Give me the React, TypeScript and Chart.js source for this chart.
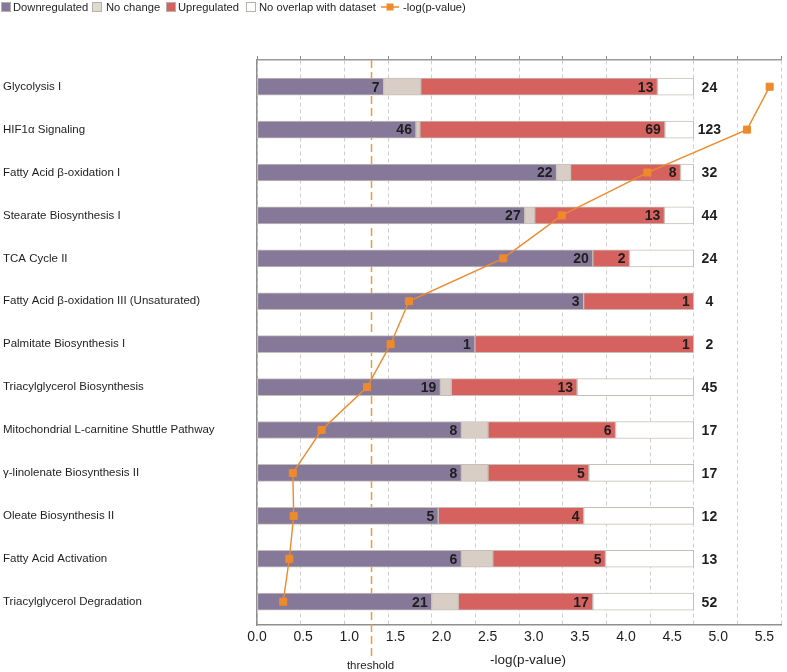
import React, { useEffect, useRef } from 'react';
import { Chart, registerables } from 'chart.js';

Chart.register(...registerables);

// ---------------- data ----------------
const categories = [
  'Glycolysis I',
  'HIF1α Signaling',
  'Fatty Acid β-oxidation I',
  'Stearate Biosynthesis I',
  'TCA Cycle II',
  'Fatty Acid β-oxidation III (Unsaturated)',
  'Palmitate Biosynthesis I',
  'Triacylglycerol Biosynthesis',
  'Mitochondrial L-carnitine Shuttle Pathway',
  'γ-linolenate Biosynthesis II',
  'Oleate Biosynthesis II',
  'Fatty Acid Activation',
  'Triacylglycerol Degradation',
];

// numbers printed in the bars and at the right
const downLabels = [7, 46, 22, 27, 20, 3, 1, 19, 8, 8, 5, 6, 21];
const upLabels = [13, 69, 8, 13, 2, 1, 1, 13, 6, 5, 4, 5, 17];
const totals = [24, 123, 32, 44, 24, 4, 2, 45, 17, 17, 12, 13, 52];

// bar segments, percent of the pathway
const downPct = [29.0, 36.4, 68.6, 61.3, 76.9, 74.8, 49.9, 42.0, 46.8, 46.8, 41.5, 46.8, 40.0];
const noChangePct = [8.5, 0.9, 3.2, 2.3, 0, 0, 0, 2.5, 6.1, 6.1, 0, 7.2, 6.1];
const upPct = [54.2, 56.1, 25.2, 29.7, 8.4, 25.2, 50.1, 28.8, 29.2, 23.1, 33.3, 25.8, 30.8];

// -log(p-value) line
const negLogP = [5.87, 5.61, 4.47, 3.49, 2.82, 1.74, 1.53, 1.26, 0.74, 0.41, 0.42, 0.37, 0.3];

const gridTicks = [0, 0.5, 1, 1.5, 2, 2.5, 3, 3.5, 4, 4.5, 5, 5.5, 6];
const axisTickLabels = [0, 0.5, 1, 1.5, 2, 2.5, 3, 3.5, 4, 4.5, 5, 5.5];
const thresholdValue = 1.3;

// ---------------- styling ----------------
const BAR_FULL = 5.0; // a 100% bar spans this many axis units
const TOTAL_X = 5.18;
const FONT = '"Liberation Sans", Arial, Helvetica, sans-serif';
const C_DOWN = '#857899';
const C_NOCH = '#d8cec5';
const C_UP = '#d6625f';
const C_NONE = '#ffffff';
const C_BORDER = '#c6beb7';
const C_LINE = '#ee8a2c';
const C_THRESH = '#f09a3c';
const C_TEXT = '#1e1e1e';

const toUnits = (arr: number[]) =>
  arr.map((v, i) => ({ x: v > 0 ? (v / 100) * BAR_FULL : null, y: i }));

const noOverlapPct = downPct.map((d, i) => 100 - d - noChangePct[i] - upPct[i]);

const overlay = {
  id: 'overlay',
  beforeDatasetsDraw(chart: any) {
    const { ctx, chartArea, scales } = chart;
    const xp = Math.round(scales.x.getPixelForValue(thresholdValue)) + 0.5;
    ctx.save();
    ctx.strokeStyle = C_THRESH;
    ctx.lineWidth = 1.5;
    ctx.setLineDash([8, 4]);
    ctx.beginPath();
    ctx.moveTo(xp, chartArea.top);
    ctx.lineTo(xp, chartArea.bottom + 31);
    ctx.stroke();
    ctx.restore();
  },
  afterDatasetsDraw(chart: any) {
    const { ctx, scales } = chart;
    const downMeta = chart.getDatasetMeta(1);
    const upMeta = chart.getDatasetMeta(3);
    ctx.save();
    ctx.fillStyle = C_TEXT;
    ctx.font = `bold 14px ${FONT}`;
    ctx.textBaseline = 'middle';
    categories.forEach((_, i) => {
      const y = scales.y.getPixelForValue(i) + 1;
      const d = downMeta.data[i];
      if (d && isFinite(d.x)) {
        ctx.textAlign = 'right';
        ctx.fillText(String(downLabels[i]), d.x - 4, y);
      }
      const u = upMeta.data[i];
      if (u && isFinite(u.x)) {
        ctx.textAlign = 'right';
        ctx.fillText(String(upLabels[i]), u.x - 4, y);
      }
      ctx.textAlign = 'center';
      ctx.fillText(String(totals[i]), scales.x.getPixelForValue(TOTAL_X), y);
    });
    ctx.restore();
  },
  afterDraw(chart: any) {
    const { ctx, chartArea, scales } = chart;
    ctx.save();
    // axis title
    ctx.fillStyle = C_TEXT;
    ctx.textBaseline = 'middle';
    ctx.textAlign = 'center';
    ctx.font = `13.5px ${FONT}`;
    ctx.fillText('-log(p-value)', (chartArea.left + chartArea.right) / 2 + 9, chartArea.bottom + 35);
    // threshold label
    ctx.font = `11.5px ${FONT}`;
    ctx.fillText('threshold', scales.x.getPixelForValue(thresholdValue), chartArea.bottom + 41);

    // legend
    const ly = 7;
    ctx.textAlign = 'left';
    ctx.font = `11.2px ${FONT}`;
    const boxes = [
      { bx: 1, tx: 13, color: C_DOWN, text: 'Downregulated' },
      { bx: 92, tx: 106, color: '#dcdccc', text: 'No change' },
      { bx: 166, tx: 178, color: C_UP, text: 'Upregulated' },
      { bx: 246, tx: 259, color: '#ffffff', text: 'No overlap with dataset' },
    ];
    boxes.forEach((b) => {
      ctx.fillStyle = b.color;
      ctx.fillRect(b.bx + 0.5, ly - 4.5, 9, 9);
      ctx.strokeStyle = '#b8b0aa';
      ctx.lineWidth = 1;
      ctx.strokeRect(b.bx + 0.5, ly - 4.5, 9, 9);
      ctx.fillStyle = C_TEXT;
      ctx.fillText(b.text, b.tx, ly + 0.5);
    });
    ctx.strokeStyle = C_LINE;
    ctx.lineWidth = 1.5;
    ctx.beginPath();
    ctx.moveTo(381, ly);
    ctx.lineTo(399, ly);
    ctx.stroke();
    ctx.fillStyle = C_LINE;
    ctx.fillRect(386.5, ly - 3.5, 7, 7);
    ctx.fillStyle = C_TEXT;
    ctx.fillText('-log(p-value)', 403, ly + 0.5);
    ctx.restore();
  },
};

export default function App() {
  const ref = useRef<HTMLCanvasElement | null>(null);

  useEffect(() => {
    if (!ref.current) return;
    const barCommon = {
      type: 'bar' as const,
      xAxisID: 'x',
      yAxisID: 'y',
      borderColor: C_BORDER,
      borderWidth: 1,
      borderSkipped: false,
      barThickness: 17,
      order: 1,
      stack: 'bars',
    };
    const chart = new Chart(ref.current, {
      type: 'bar',
      data: {
        datasets: [
          {
            type: 'line',
            label: '-log(p-value)',
            data: negLogP.map((v, i) => ({ x: v, y: i })),
            indexAxis: 'y',
            xAxisID: 'x',
            yAxisID: 'y',
            borderColor: C_LINE,
            backgroundColor: C_LINE,
            borderWidth: 1.4,
            pointStyle: 'rect',
            pointRadius: 5,
            pointBorderWidth: 1,
            pointBorderColor: C_LINE,
            pointBackgroundColor: C_LINE,
            tension: 0,
            order: 0,
            stack: 'line',
          } as any,
          { ...barCommon, label: 'Downregulated', data: toUnits(downPct), backgroundColor: C_DOWN } as any,
          { ...barCommon, label: 'No change', data: toUnits(noChangePct), backgroundColor: C_NOCH } as any,
          { ...barCommon, label: 'Upregulated', data: toUnits(upPct), backgroundColor: C_UP } as any,
          { ...barCommon, label: 'No overlap with dataset', data: toUnits(noOverlapPct), backgroundColor: C_NONE } as any,
        ],
      },
      options: {
        indexAxis: 'y',
        responsive: false,
        animation: false,
        devicePixelRatio: 1,
        layout: { padding: { left: 3, right: 1, top: 0, bottom: 0 } },
        plugins: {
          legend: { display: false },
          tooltip: { enabled: false },
        },
        scales: {
          x: {
            type: 'linear',
            position: 'top',
            min: 0,
            max: 6.0,
            stacked: true,
            offset: false,
            afterBuildTicks: (s: any) => {
              s.ticks = gridTicks.map((v) => ({ value: v }));
            },
            afterFit: (s: any) => {
              s.height = 60;
            },
            ticks: { display: false },
            grid: {
              display: true,
              offset: false,
              color: '#cfcfcf',
              lineWidth: 1,
              drawTicks: true,
              tickLength: 4,
              tickColor: '#8c8c8c',
            },
            border: { display: true, color: '#9a9a9a', width: 1.5, dash: [4, 3] },
          },
          xb: {
            type: 'linear',
            position: 'bottom',
            min: 0,
            max: 5.68,
            offset: false,
            afterBuildTicks: (s: any) => {
              s.ticks = axisTickLabels.map((v) => ({ value: v }));
            },
            afterFit: (s: any) => {
              s.height = 47;
            },
            ticks: {
              autoSkip: false,
              maxRotation: 0,
              padding: 4,
              color: C_TEXT,
              font: { family: FONT, size: 14 },
              callback: (v: any) => Number(v).toFixed(1),
            },
            grid: { display: false, drawTicks: false, offset: false },
            border: { display: true, color: '#8f8f8f', width: 1.5 },
          },
          y: {
            type: 'linear',
            position: 'left',
            reverse: true,
            min: -0.622,
            max: 12.543,
            stacked: true,
            offset: false,
            afterBuildTicks: (s: any) => {
              s.ticks = categories.map((_, i) => ({ value: i }));
            },
            afterFit: (s: any) => {
              s.width = 254;
            },
            ticks: {
              autoSkip: false,
              crossAlign: 'far',
              color: C_TEXT,
              font: { family: FONT, size: 11.5 },
              callback: (v: any) => categories[Number(v)] ?? '',
            },
            grid: { display: false, drawTicks: false, offset: false },
            border: { display: true, color: '#8f8f8f', width: 1.5 },
          },
        },
      } as any,
      plugins: [overlay],
    });
    return () => chart.destroy();
  }, []);

  return (
    <div style={{ position: 'fixed', left: 0, top: 0, width: 787, height: 672, background: '#fff' }}>
      <canvas ref={ref} width={787} height={672} style={{ display: 'block' }} />
    </div>
  );
}
